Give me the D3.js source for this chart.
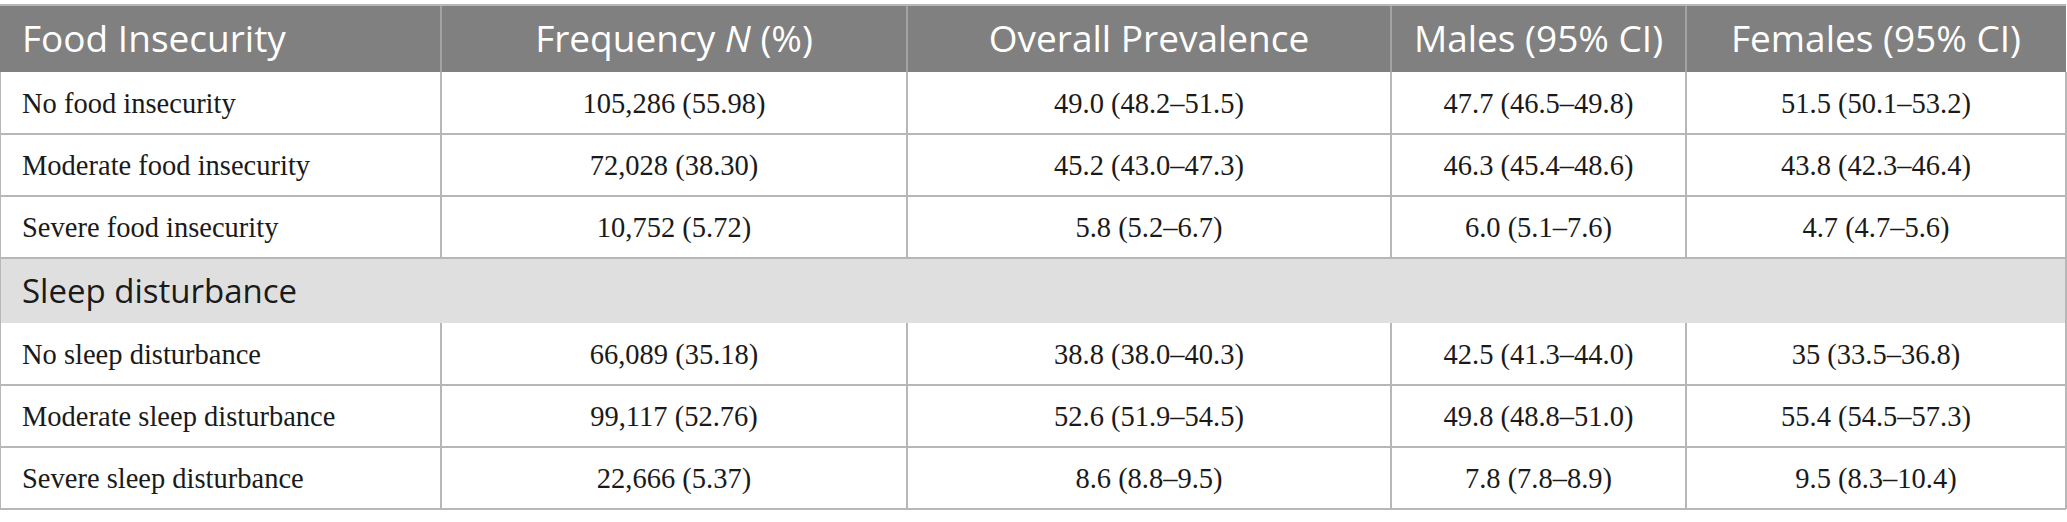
<!DOCTYPE html>
<html>
  <head>
    <meta charset="utf-8">
    <script src="https://d3js.org/d3.v7.min.js"></script>
    <title>Food insecurity and sleep disturbance</title>
    <style>
      body {
        margin: 0px;
        background: #fff;
      }
      .head text {
        fill: #ffffff;
        font-family: 'Open Sans', sans-serif;
        font-size: 37px;
      }
      .section text {
        fill: #1a1a1a;
        font-family: 'Open Sans', sans-serif;
        font-size: 33px;
      }
      .cell {
        fill: #1a1a1a;
        font-family: 'Liberation Serif', serif;
        font-size: 28.5px;
      }
    </style>
  </head>
  <body>
    <svg width="2067" height="522"></svg>
    <script>

      const headers = ['Food Insecurity', 'Frequency N (%)', 'Overall Prevalence', 'Males (95% CI)', 'Females (95% CI)'];
      const sectionLabel = 'Sleep disturbance';

      const foodLabels = ['No food insecurity', 'Moderate food insecurity', 'Severe food insecurity'];
      const foodFreq = ['105,286 (55.98)', '72,028 (38.30)', '10,752 (5.72)'];
      const foodOverall = ['49.0 (48.2–51.5)', '45.2 (43.0–47.3)', '5.8 (5.2–6.7)'];
      const foodMales = ['47.7 (46.5–49.8)', '46.3 (45.4–48.6)', '6.0 (5.1–7.6)'];
      const foodFemales = ['51.5 (50.1–53.2)', '43.8 (42.3–46.4)', '4.7 (4.7–5.6)'];

      const sleepLabels = ['No sleep disturbance', 'Moderate sleep disturbance', 'Severe sleep disturbance'];
      const sleepFreq = ['66,089 (35.18)', '99,117 (52.76)', '22,666 (5.37)'];
      const sleepOverall = ['38.8 (38.0–40.3)', '52.6 (51.9–54.5)', '8.6 (8.8–9.5)'];
      const sleepMales = ['42.5 (41.3–44.0)', '49.8 (48.8–51.0)', '7.8 (7.8–8.9)'];
      const sleepFemales = ['35 (33.5–36.8)', '55.4 (54.5–57.3)', '9.5 (8.3–10.4)'];

      // column edges and row edges of the table
      const colEdges = [0, 441, 907, 1391, 1686, 2066];
      const headTop = 5, headBottom = 72;
      const rowH = 62;
      const sectionH = 65;

      const svg = d3.select('svg');
      const lineColor = '#b7b7b7';

      const toRows = (labels, a, b, c, d) =>
        labels.map((l, i) => [l, a[i], b[i], c[i], d[i]]);
      const foodRows = toRows(foodLabels, foodFreq, foodOverall, foodMales, foodFemales);
      const sleepRows = toRows(sleepLabels, sleepFreq, sleepOverall, sleepMales, sleepFemales);

      const colX = i => i === 0 ? colEdges[0] + 22 : (colEdges[i] + colEdges[i + 1]) / 2;
      const anchor = i => i === 0 ? 'start' : 'middle';

      // header
      const head = svg.append('g').attr('class', 'head');
      head.append('rect')
          .attr('x', 0).attr('y', headTop)
          .attr('width', colEdges[5]).attr('height', headBottom - headTop)
          .attr('fill', '#808080');
      head.selectAll('line').data(colEdges.slice(1, 5))
        .enter().append('line')
          .attr('x1', d => d).attr('x2', d => d)
          .attr('y1', headTop).attr('y2', headBottom)
          .attr('stroke', '#a3a3a3').attr('stroke-width', 2);
      head.selectAll('text').data(headers)
        .enter().append('text')
          .attr('x', (d, i) => colX(i))
          .attr('y', (headTop + headBottom) / 2 + 13)
          .attr('text-anchor', (d, i) => anchor(i))
          .each(function(d) {
            const t = d3.select(this);
            if (d.includes(' N ')) {
              const parts = d.split(' N ');
              t.append('tspan').text(parts[0] + ' ');
              t.append('tspan').attr('font-style', 'italic').text('N');
              t.append('tspan').text(' ' + parts[1]);
            } else {
              t.text(d);
            }
          });

      const drawBlock = (rows, top) => {
        const g = svg.append('g');
        const y = d3.scaleBand()
          .domain(d3.range(rows.length))
          .range([top, top + rows.length * rowH]);
        const r = g.selectAll('g').data(rows)
          .enter().append('g');
        r.append('line')
            .attr('x1', 0).attr('x2', colEdges[5])
            .attr('y1', (d, i) => y(i) + rowH).attr('y2', (d, i) => y(i) + rowH)
            .attr('stroke', lineColor).attr('stroke-width', 2);
        r.selectAll('text').data(d => d)
          .enter().append('text')
            .attr('class', 'cell')
            .attr('x', (d, i) => colX(i))
            .attr('text-anchor', (d, i) => anchor(i))
            .text(d => d);
        r.selectAll('text')
            .attr('y', function() {
              const i = rows.indexOf(d3.select(this.parentNode).datum());
              return y(i) + rowH / 2 + 10;
            });
        g.selectAll('line.v').data(colEdges)
          .enter().append('line')
            .attr('class', 'v')
            .attr('x1', d => d).attr('x2', d => d)
            .attr('y1', top).attr('y2', top + rows.length * rowH)
            .attr('stroke', lineColor).attr('stroke-width', 2);
        return top + rows.length * rowH;
      };

      // top border
      svg.append('line')
          .attr('x1', 0).attr('x2', colEdges[5])
          .attr('y1', headTop).attr('y2', headTop)
          .attr('stroke', lineColor).attr('stroke-width', 2);

      const foodEnd = drawBlock(foodRows, headBottom);

      // section row
      const sec = svg.append('g').attr('class', 'section');
      sec.append('rect')
          .attr('x', 0).attr('y', foodEnd)
          .attr('width', colEdges[5]).attr('height', sectionH)
          .attr('fill', '#e0dfe0');
      sec.append('text')
          .attr('x', colX(0))
          .attr('y', foodEnd + sectionH / 2 + 12)
          .text(sectionLabel);
      [0, colEdges[5]].forEach(x => sec.append('line')
          .attr('x1', x).attr('x2', x)
          .attr('y1', foodEnd).attr('y2', foodEnd + sectionH)
          .attr('stroke', lineColor).attr('stroke-width', 2));
      sec.append('line')
          .attr('x1', 0).attr('x2', colEdges[5])
          .attr('y1', foodEnd).attr('y2', foodEnd)
          .attr('stroke', lineColor).attr('stroke-width', 2);

      drawBlock(sleepRows, foodEnd + sectionH);
    </script>
  </body>
</html>
